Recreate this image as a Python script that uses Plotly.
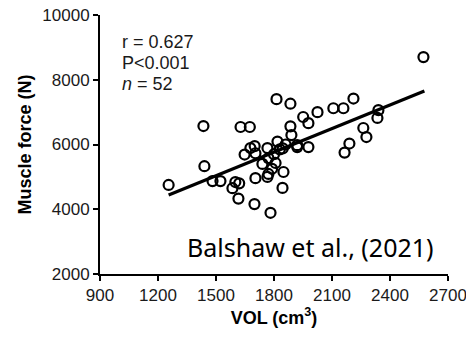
import plotly.graph_objects as go

vol = [1255, 1435, 1440, 1482, 1523, 1585, 1600, 1616, 1627, 1675,
       1648, 1678, 1699, 1704, 1766, 1771, 1766, 1818, 1771, 1808,
       1849, 1844, 1782, 1813, 1885, 1885, 1890, 1920, 1978, 1951,
       1978, 2025, 2107, 2159, 2211, 2573, 2340, 2335, 2262, 2278,
       2190, 2165, 1845, 1704, 1800, 1790, 1740, 1830, 1700, 1860,
       1620, 1920]
force = [4750, 6570, 5330, 4870, 4870, 4650, 4840, 4330, 6540, 6540,
         5690, 5890, 4160, 4960, 5000, 5090, 5890, 6090, 5580, 5430,
         5150, 4660, 3890, 7400, 7260, 6560, 6290, 5920, 5920, 6850,
         6660, 7000, 7120, 7120, 7420, 8700, 7060, 6820, 6510, 6230,
         6030, 5750, 5880, 5730, 5700, 5250, 5400, 5850, 5950, 6000,
         4800, 5980]

fit_x = [1255, 2578]
fit_y = [4440, 7650]

stats_lines = ["r = 0.627", "P<0.001", "<i>n</i> = 52"]
x_ticks = [900, 1200, 1500, 1800, 2100, 2400, 2700]
x_labels = ["900", "1200", "1500", "1800", "2100", "2400", "2700"]
y_ticks = [2000, 4000, 6000, 8000, 10000]
y_labels = ["2000", "4000", "6000", "8000", "10000"]

fig = go.Figure()
fig.add_trace(go.Scatter(
    x=vol, y=force, mode="markers",
    marker=dict(symbol="circle-open", size=10, color="black",
                line=dict(width=2.2, color="black")),
    showlegend=False, cliponaxis=False))
fig.add_trace(go.Scatter(
    x=fit_x, y=fit_y, mode="lines",
    line=dict(color="black", width=3.2), showlegend=False))

ys = [0.896, 0.815, 0.734]
for t, yy in zip(stats_lines, ys):
    fig.add_annotation(text=t, xref="paper", yref="paper", x=0.058, y=yy,
                       xanchor="left", yanchor="middle", showarrow=False,
                       font=dict(family="Liberation Sans, Arial", size=18, color="#1a1a1a"))

fig.add_annotation(text="Balshaw et al., (2021)", xref="paper", yref="paper",
                   x=0.605, y=0.104, xanchor="center", yanchor="middle",
                   showarrow=False,
                   font=dict(family="Noto Sans", size=25, color="black"))

axis_common = dict(showline=True, linewidth=2, linecolor="black",
                   ticks="outside", ticklen=5, tickwidth=2, tickcolor="black",
                   showgrid=False, zeroline=False, automargin=False,
                   ticklabeloverflow="allow",
                   tickfont=dict(family="Liberation Sans, Arial", size=17, color="#1a1a1a"))

fig.update_xaxes(range=[900, 2700], tickvals=x_ticks, ticktext=x_labels,
                 title=dict(text="<b>VOL (cm<sup>3</sup>)</b>", standoff=6,
                            font=dict(family="Liberation Sans, Arial", size=18, color="black")),
                 **axis_common)
fig.update_yaxes(range=[2000, 10000], tickvals=y_ticks, ticktext=y_labels,
                 title=dict(text="<b>Muscle force (N)</b>", standoff=6,
                            font=dict(family="Liberation Sans, Arial", size=18, color="black")),
                 **axis_common)

fig.update_layout(width=466, height=339,
                  margin=dict(l=100, r=18, t=15, b=65),
                  plot_bgcolor="white", paper_bgcolor="white")

fig.write_html("out.html", config={"displayModeBar": False},
               post_script="document.body.style.margin='0';document.body.style.overflow='hidden';")
